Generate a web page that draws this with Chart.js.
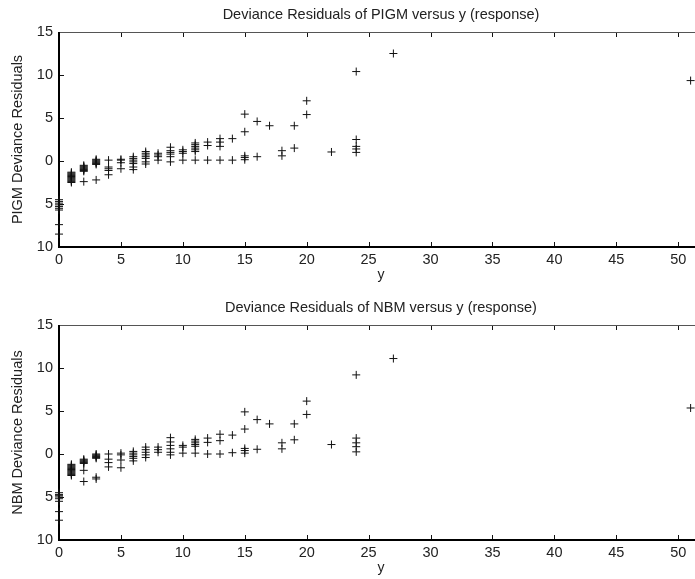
<!DOCTYPE html>
<html>
<head>
<meta charset="utf-8">
<script src="https://cdn.jsdelivr.net/npm/chart.js@4"></script>
<style>
  html, body { margin: 0; padding: 0; background: #fff; overflow: hidden; }
  body { width: 695px; height: 579px; position: relative; }
  .panel { position: absolute; left: 0; width: 710px; height: 290px; }
</style>
</head>
<body>
<div class="panel" style="top:0"><canvas id="pigmChart" width="710" height="290"></canvas></div>
<div class="panel" style="top:293px"><canvas id="nbmChart" width="710" height="290"></canvas></div>
<script>
// observed response values (x axis)
const responses = [0, 1, 2, 3, 4, 5, 6, 7, 8, 9, 10, 11, 12, 13, 14, 15, 16, 17, 18, 19, 20, 22, 24, 27, 51];

// deviance residuals per response value
const pigmResiduals = [
    [-4.5, -4.7, -4.9, -5.1, -5.3, -5.5, -5.7, -7.4, -8.5],
    [-1.3, -1.4, -1.5, -1.6, -1.7, -1.8, -1.9, -2.0, -2.1, -2.2, -2.3, -2.4, -2.5],
    [-0.5, -0.6, -0.7, -0.8, -0.9, -1.0, -1.1, -1.2, -2.4],
    [0.2, 0.1, 0, -0.1, -0.2, -0.3, -0.4, -2.2],
    [0.1, -0.7, -0.9, -1.1, -1.6],
    [0.2, 0.1, -0.2, -0.9],
    [0.5, 0.3, 0.1, -0.1, -0.3, -0.7, -1.0],
    [1.1, 0.9, 0.7, 0.5, 0.3, -0.1, -0.35],
    [0.9, 0.7, 0.5, 0.1],
    [1.6, 1.2, 1.0, 0.8, 0.5, -0.1],
    [1.3, 1.1, 0.9, 0.1],
    [2.1, 1.9, 1.7, 1.5, 1.3, 1.1, 0.1],
    [2.2, 1.8, 0.1],
    [2.6, 2.2, 1.7, 0.1],
    [2.6, 0.1],
    [5.45, 3.4, 0.6, 0.4, 0.15],
    [4.6, 0.5],
    [4.1],
    [1.2, 0.6],
    [4.1, 1.5],
    [7.0, 5.4],
    [1.05],
    [10.4, 2.5, 1.7, 1.4, 1.0],
    [12.5],
    [9.35]
];

const nbmResiduals = [
    [-4.5, -4.7, -4.85, -5.0, -5.2, -5.5, -6.7, -7.7],
    [-1.2, -1.3, -1.4, -1.5, -1.6, -1.7, -1.8, -1.9, -2.0, -2.1, -2.2, -2.3, -2.4, -2.5],
    [-0.6, -0.7, -0.8, -0.9, -1.0, -1.1, -1.9, -3.2],
    [0, -0.1, -0.2, -0.3, -0.4, -0.5, -2.7, -2.9],
    [0, -0.6, -1.0, -1.5],
    [0.1, -0.1, -0.7, -1.6],
    [0.3, 0.1, -0.1, -0.3, -0.5, -0.8],
    [0.8, 0.5, 0.2, -0.1, -0.4],
    [0.8, 0.5, 0.2],
    [1.9, 1.4, 1.0, 0.6, 0.2, -0.1],
    [1.0, 0.8, 0.1],
    [1.7, 1.5, 1.3, 1.1, 0.9, 0.1],
    [1.85, 1.35, 0],
    [2.3, 1.55, 0],
    [2.2, 0.15],
    [4.9, 2.9, 0.65, 0.4, 0.1],
    [4.0, 0.55],
    [3.5],
    [1.3, 0.6],
    [3.5, 1.65],
    [6.15, 4.6],
    [1.1],
    [9.2, 1.85, 1.3, 0.85, 0.25],
    [11.1],
    [5.35]
];

const xRange = [0, 52];
const yRange = [-10, 15];
const tickStep = 5;

const fontFamily = '"Liberation Sans", Arial, Helvetica, sans-serif';
const textColor = '#222';

// MATLAB style box: heavy left/bottom, thin top, ticks pointing inward
const framePlugin = {
    id: 'matlabFrame',
    beforeDatasetsDraw(chart) {
        const { ctx, chartArea: a, scales: { x, y } } = chart;
        ctx.save();
        ctx.strokeStyle = '#111';
        ctx.lineWidth = 1;
        ctx.beginPath();
        x.ticks.forEach(t => {
            const px = Math.round(x.getPixelForValue(t.value)) + 0.5;
            ctx.moveTo(px, a.bottom);
            ctx.lineTo(px, a.bottom - 5);
            ctx.moveTo(px, a.top);
            ctx.lineTo(px, a.top + 5);
        });
        y.ticks.forEach(t => {
            const py = Math.round(y.getPixelForValue(t.value)) + 0.5;
            ctx.moveTo(a.left, py);
            ctx.lineTo(a.left + 5, py);
        });
        ctx.stroke();

        ctx.strokeStyle = '#555';
        ctx.beginPath();
        ctx.moveTo(a.left, a.top + 0.5);
        ctx.lineTo(a.right, a.top + 0.5);
        ctx.stroke();

        ctx.strokeStyle = '#000';
        ctx.lineWidth = 2;
        ctx.beginPath();
        ctx.moveTo(a.left, a.top);
        ctx.lineTo(a.left, a.bottom);
        ctx.lineTo(a.right, a.bottom);
        ctx.stroke();
        ctx.restore();
    }
};

function toPoints(residuals) {
    const pts = [];
    responses.forEach((r, i) => {
        residuals[i].forEach(v => pts.push({ x: r, y: v }));
    });
    return pts;
}

function makeChart(canvasId, titleText, yTitle, residuals) {
    return new Chart(document.getElementById(canvasId), {
        type: 'scatter',
        data: {
            datasets: [{
                data: toPoints(residuals),
                pointStyle: 'cross',
                pointRadius: 4,
                pointHoverRadius: 4,
                borderWidth: 1,
                borderColor: '#111',
                backgroundColor: '#111',
                clip: false
            }]
        },
        options: {
            responsive: false,
            animation: false,
            events: [],
            layout: { padding: { left: 0, right: 7, top: 0, bottom: 0 } },
            plugins: {
                legend: { display: false },
                tooltip: { enabled: false },
                title: {
                    display: true,
                    text: titleText,
                    fullSize: false,
                    color: textColor,
                    font: { family: fontFamily, size: 14.5, weight: 'normal' },
                    padding: { top: 6, bottom: 8.6 }
                }
            },
            scales: {
                x: {
                    type: 'linear',
                    min: xRange[0],
                    max: xRange[1],
                    grid: { display: false, drawTicks: false },
                    border: { display: false },
                    ticks: {
                        stepSize: tickStep,
                        includeBounds: false,
                        padding: 4,
                        color: textColor,
                        maxRotation: 0,
                        font: { family: fontFamily, size: 14.5 }
                    },
                    title: {
                        display: true,
                        text: 'y',
                        color: textColor,
                        font: { family: fontFamily, size: 14 },
                        padding: { top: 0, bottom: 6 }
                    },
                    afterFit(scale) { scale.height = 43; }
                },
                y: {
                    type: 'linear',
                    min: yRange[0],
                    max: yRange[1],
                    grid: { display: false, drawTicks: false },
                    border: { display: false },
                    ticks: {
                        stepSize: tickStep,
                        includeBounds: false,
                        padding: 6,
                        color: textColor,
                        font: { family: fontFamily, size: 14.5 },
                        callback: v => String(Math.abs(v))
                    },
                    title: {
                        display: true,
                        text: yTitle,
                        color: textColor,
                        font: { family: fontFamily, size: 14.5 },
                        padding: { top: 9, bottom: 0 }
                    },
                    afterFit(scale) { scale.width = 59; }
                }
            }
        },
        plugins: [framePlugin]
    });
}

makeChart('pigmChart', 'Deviance Residuals of PIGM versus y (response)', 'PIGM Deviance Residuals', pigmResiduals);
makeChart('nbmChart', 'Deviance Residuals of NBM versus y (response)', 'NBM Deviance Residuals', nbmResiduals);
</script>
</body>
</html>
